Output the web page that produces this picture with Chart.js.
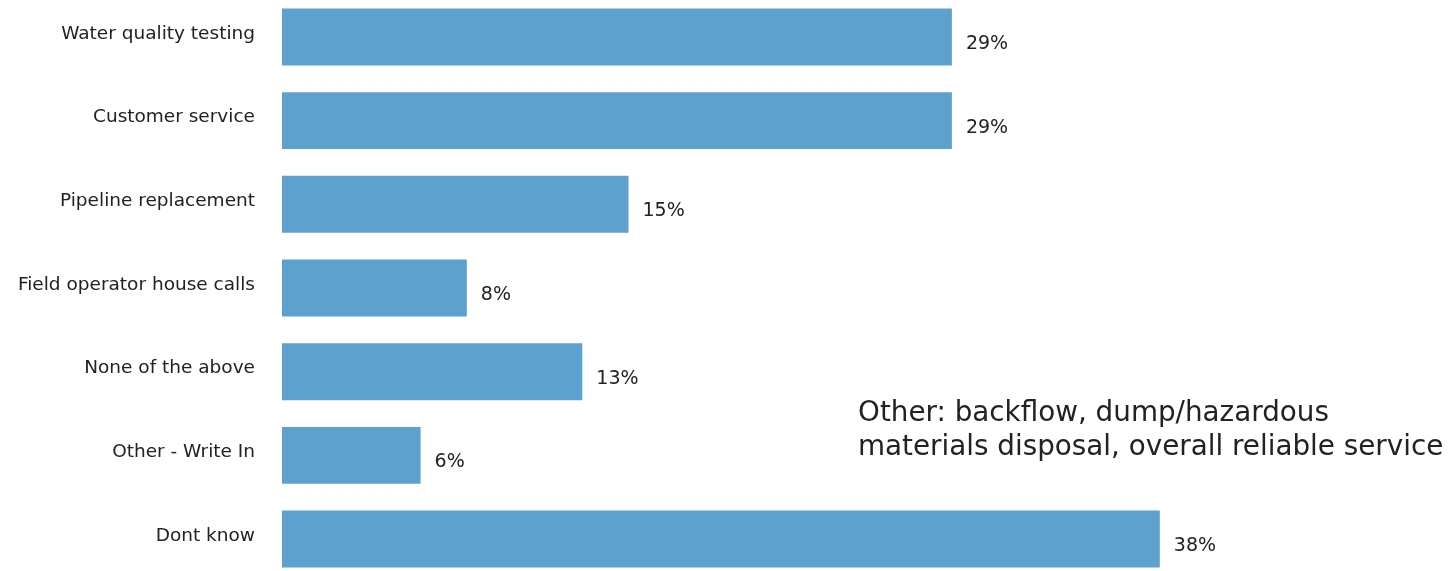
<!DOCTYPE html>
<html>
<head>
<meta charset="utf-8">
<script src="https://cdn.jsdelivr.net/npm/chart.js@4.4.1/dist/chart.umd.min.js"></script>
<style>
  html, body { margin: 0; padding: 0; background: #ffffff; overflow: hidden; }
  #chart { position: absolute; left: 0; top: -16px; }
</style>
</head>
<body>
<canvas id="chart" width="1454" height="608"></canvas>
<script>
// Survey responses, share of respondents (%)
const categories = [
  'Water quality testing',
  'Customer service',
  'Pipeline replacement',
  'Field operator house calls',
  'None of the above',
  'Other - Write In',
  'Dont know'
];
const shares = [29, 29, 15, 8, 13, 6, 38];
const noteLines = [
  'Other: backflow, dump/hazardous',
  'materials disposal, overall reliable service'
];

const FONT = '"DejaVu Sans", Verdana, sans-serif';
const BAR_COLOR = '#5da2cc';

// Percent labels to the right of each bar
const valueLabels = {
  id: 'valueLabels',
  afterDatasetsDraw(chart) {
    const { ctx } = chart;
    const meta = chart.getDatasetMeta(0);
    ctx.save();
    ctx.font = '19px ' + FONT;
    ctx.fillStyle = '#222222';
    ctx.textAlign = 'left';
    ctx.textBaseline = 'middle';
    meta.data.forEach((bar, i) => {
      ctx.fillText(shares[i] + '%', bar.x + 14, bar.y + 7);
    });
    ctx.restore();
  }
};

// Free-text note on the right side of the plot
const noteText = {
  id: 'noteText',
  afterDraw(chart) {
    const { ctx } = chart;
    ctx.save();
    ctx.font = '27.8px ' + FONT;
    ctx.fillStyle = '#222222';
    ctx.textAlign = 'left';
    ctx.textBaseline = 'alphabetic';
    noteLines.forEach((line, i) => {
      ctx.fillText(line, 858, 437 + i * 34);
    });
    ctx.restore();
  }
};

new Chart(document.getElementById('chart'), {
  type: 'bar',
  data: {
    labels: categories,
    datasets: [{
      data: shares,
      backgroundColor: BAR_COLOR,
      borderWidth: 0,
      barPercentage: 0.68,
      categoryPercentage: 1.0
    }]
  },
  options: {
    indexAxis: 'y',
    responsive: false,
    animation: false,
    layout: { padding: { left: 0, top: 0, bottom: 0, right: 17 } },
    plugins: {
      legend: { display: false },
      tooltip: { enabled: false }
    },
    scales: {
      x: {
        min: 0,
        max: 50,
        display: false,
        grid: { display: false }
      },
      y: {
        grid: { display: false, drawTicks: true, tickLength: 27 },
        border: { display: false },
        ticks: {
          color: '#222222',
          font: { family: FONT, size: 18.5 },
          padding: 0,
          labelOffset: -3
        },
        afterFit(scale) { scale.width = 282; }
      }
    }
  },
  plugins: [valueLabels, noteText]
});
</script>
</body>
</html>
